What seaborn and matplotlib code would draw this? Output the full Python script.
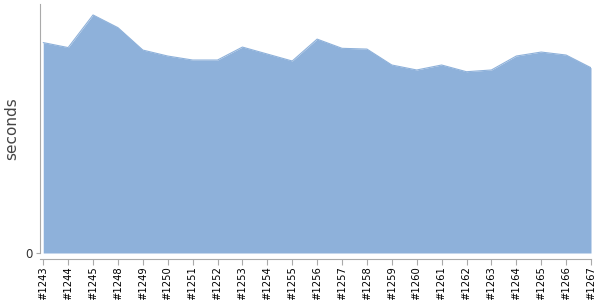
import matplotlib
matplotlib.use("Agg")
import matplotlib.pyplot as plt
import seaborn as sns
import pandas as pd
import numpy as np

builds = ["#1243", "#1244", "#1245", "#1248", "#1249", "#1250", "#1251", "#1252",
          "#1253", "#1254", "#1255", "#1256", "#1257", "#1258", "#1259", "#1260",
          "#1261", "#1262", "#1263", "#1264", "#1265", "#1266", "#1267"]
seconds = [84.5, 82.5, 95.6, 90.5, 81.5, 79.1, 77.5, 77.5,
           82.7, 79.9, 77.1, 85.9, 82.2, 81.9, 75.5, 73.5,
           75.5, 72.8, 73.5, 79.1, 80.7, 79.5, 74.4]

df = pd.DataFrame({"build": builds, "seconds": seconds})
df["pos"] = np.arange(len(df))

sns.set_style("white")
plt.rcParams["font.family"] = ["DejaVu Sans"]

fig = plt.figure(figsize=(6, 3), dpi=100)
ax = fig.add_axes([40/600, 1-253/300, (591-40)/600, (253-4)/300])

color = "#8eb1da"
sns.lineplot(data=df, x="pos", y="seconds", ax=ax, color=color, linewidth=0.8)
ax.fill_between(df["pos"], 0, df["seconds"], color=color, linewidth=0)

ax.set_xlim(-0.13, len(df) - 1)
ax.set_ylim(0, 100)
ax.set_xticks(df["pos"])
ax.set_xticklabels(df["build"])
ax.set_yticks([0])
ax.set_yticklabels(["0"])
ax.set_xlabel("")
ax.set_ylabel("seconds", fontsize=11, color="#444444")
ax.yaxis.set_label_coords(-0.037, 0.5)

for s in ["top", "right"]:
    ax.spines[s].set_visible(False)
ax.spines["left"].set_color("#aaaaaa")
ax.spines["bottom"].set_color("#aaaaaa")
ax.spines["bottom"].set_position(("outward", 4))
ax.tick_params(axis="x", length=4, color="#aaaaaa", pad=1.5, bottom=True,
               labelrotation=90, labelsize=7.2, labelcolor="black")
ax.tick_params(axis="y", length=3, color="#aaaaaa", pad=2, left=True,
               labelsize=8.5, labelcolor="#333333")

fig.savefig("out.png", dpi=100)
